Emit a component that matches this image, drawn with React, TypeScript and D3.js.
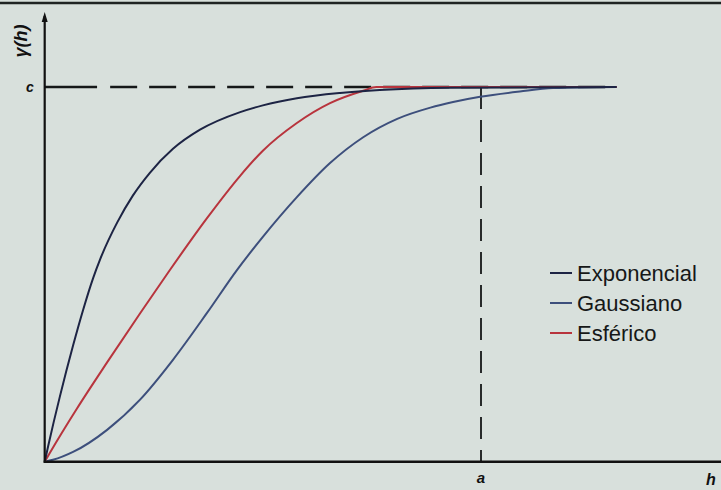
import React from "react";
import * as d3 from "d3";

// h in units of the range a, gamma in units of the sill c
const expH = [0, 0.008, 0.035, 0.065, 0.088, 0.111, 0.127, 0.166, 0.202, 0.241, 0.294, 0.356, 0.448, 0.5, 0.578, 0.677, 0.768, 0.93, 1.311];
const expG = [0, 0.042, 0.175, 0.31, 0.405, 0.49, 0.54, 0.638, 0.71, 0.771, 0.835, 0.886, 0.933, 0.951, 0.97, 0.984, 0.992, 0.998, 1.0];

const gauH = [0, 0.019, 0.065, 0.143, 0.218, 0.294, 0.372, 0.441, 0.5, 0.578, 0.654, 0.73, 0.808, 0.884, 0.936, 0.998, 1.089, 1.165, 1.311];
const gauG = [0, 0.005, 0.026, 0.085, 0.165, 0.272, 0.397, 0.512, 0.6, 0.706, 0.797, 0.866, 0.915, 0.945, 0.96, 0.974, 0.988, 0.997, 1.0];

const sphH = [0, 0.012, 0.074, 0.143, 0.218, 0.283, 0.372, 0.448, 0.5, 0.578, 0.654, 0.73, 0.76, 0.9, 1.311];
const sphG = [0, 0.024, 0.142, 0.265, 0.395, 0.505, 0.65, 0.763, 0.83, 0.904, 0.957, 0.99, 1.0, 1.0, 1.0];

const seriesNames = ["Exponencial", "Gaussiano", "Esférico"];
const seriesColors = ["#1d2444", "#3d4f7c", "#b8343d"];

const W = 721;
const H = 490;

export default function App() {
  const x = d3.scaleLinear().domain([0, 1]).range([44.7, 481]);
  const y = d3.scaleLinear().domain([0, 1]).range([461.7, 87]);
  const line = d3
    .line<[number, number]>()
    .x((d) => x(d[0]))
    .y((d) => y(d[1]))
    .curve(d3.curveMonotoneX);

  const series = [
    expH.map((h, i) => [h, expG[i]] as [number, number]),
    gauH.map((h, i) => [h, gauG[i]] as [number, number]),
    sphH.map((h, i) => [h, sphG[i]] as [number, number]),
  ];
  const drawOrder = [1, 2, 0];
  const legendY = [273, 303, 333];
  const font = "'Liberation Sans', Arial, sans-serif";

  return (
    <svg
      width={W}
      height={H}
      style={{ position: "absolute", left: 0, top: 0, background: "#d8e0dc" }}
      fontFamily={font}
    >
      <rect x={0} y={0} width={W} height={H} fill="#d8e0dc" />
      <line x1={0} x2={W} y1={3} y2={3} stroke="#1f2423" strokeWidth={2.5} />

      {/* sill line */}
      <line x1={x(0)} x2={x(0.12)} y1={y(1)} y2={y(1)} stroke="#151818" strokeWidth={2.4} />
      <line
        x1={x(0.15)}
        x2={617}
        y1={y(1)}
        y2={y(1)}
        stroke="#151818"
        strokeWidth={2.4}
        strokeDasharray="27 12"
      />
      {/* range line */}
      <line
        x1={x(1)}
        x2={x(1)}
        y1={y(1)}
        y2={y(0)}
        stroke="#151818"
        strokeWidth={1.8}
        strokeDasharray="22 11"
      />

      {drawOrder.map((i) => (
        <path
          key={seriesNames[i]}
          d={line(series[i]) || ""}
          fill="none"
          stroke={seriesColors[i]}
          strokeWidth={2}
        />
      ))}

      {/* axes */}
      <line x1={x(0)} x2={x(0)} y1={y(0) + 1} y2={16} stroke="#111" strokeWidth={2.2} />
      <path d={`M${x(0) - 3},${22} L${x(0)},${12} L${x(0) + 3},${22} Z`} fill="#111" />
      <line x1={x(0) - 1} x2={W} y1={y(0)} y2={y(0)} stroke="#111" strokeWidth={2.4} />

      {/* labels */}
      <text
        transform={`translate(27,41) rotate(-90)`}
        textAnchor="middle"
        fontSize={18}
        fontStyle="italic"
        fontWeight="bold"
        fill="#111"
      >
        γ(h)
      </text>
      <text x={30} y={y(1) + 5} textAnchor="middle" fontSize={14} fontStyle="italic" fontWeight="bold" fill="#111">
        c
      </text>
      <text x={x(1)} y={483} textAnchor="middle" fontSize={15} fontStyle="italic" fontWeight="bold" fill="#111">
        a
      </text>
      <text x={711} y={485} textAnchor="middle" fontSize={16} fontStyle="italic" fontWeight="bold" fill="#111">
        h
      </text>

      {/* legend */}
      {seriesNames.map((name, i) => (
        <g key={name}>
          <line x1={550} x2={572} y1={legendY[i]} y2={legendY[i]} stroke={seriesColors[i]} strokeWidth={2} />
          <text x={577} y={legendY[i] + 8} fontSize={22} fill="#161818">
            {name}
          </text>
        </g>
      ))}
    </svg>
  );
}
